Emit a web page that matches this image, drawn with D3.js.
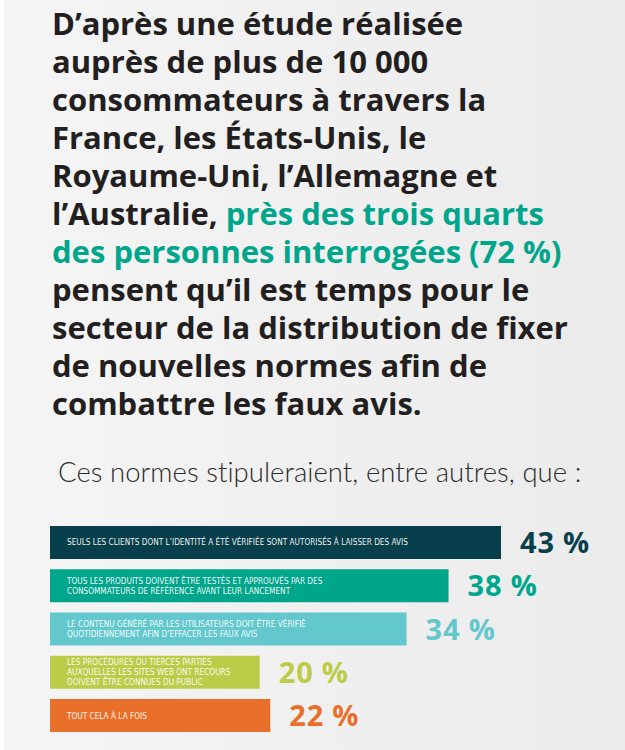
<!DOCTYPE html>
<html>
<head>
<meta charset="utf-8">
<style>
  html, body { margin: 0; padding: 0; }
  body { width: 625px; height: 750px; overflow: hidden; }
  text { font-variant-ligatures: none; }
</style>
</head>
<body>
<div id="chart"></div>
<script src="https://d3js.org/d3.v7.min.js"></script>
<script>
// title lines, each as [text, highlighted?] segments
const titleLines = [
  [["D’après une étude réalisée", false]],
  [["auprès de plus de 10 000", false]],
  [["consommateurs à travers la", false]],
  [["France, les États-Unis, le", false]],
  [["Royaume-Uni, l’Allemagne et", false]],
  [["l’Australie, ", false], ["près des trois quarts", true]],
  [["des personnes interrogées (72 %)", true]],
  [["pensent qu’il est temps pour le", false]],
  [["secteur de la distribution de fixer", false]],
  [["de nouvelles normes afin de", false]],
  [["combattre les faux avis.", false]]
];
const subtitle = "Ces normes stipuleraient, entre autres, que :";

const categories = [
  ["SEULS LES CLIENTS DONT L’IDENTITÉ A ÉTÉ VÉRIFIÉE SONT AUTORISÉS À LAISSER DES AVIS"],
  ["TOUS LES PRODUITS DOIVENT ÊTRE TESTÉS ET APPROUVÉS PAR DES", "CONSOMMATEURS DE RÉFÉRENCE AVANT LEUR LANCEMENT"],
  ["LE CONTENU GÉNÉRÉ PAR LES UTILISATEURS DOIT ÊTRE VÉRIFIÉ", "QUOTIDIENNEMENT AFIN D’EFFACER LES FAUX AVIS"],
  ["LES PROCÉDURES OU TIERCES PARTIES", "AUXQUELLES LES SITES WEB ONT RECOURS", "DOIVENT ÊTRE CONNUES DU PUBLIC"],
  ["TOUT CELA À LA FOIS"]
];
// bar lengths as drawn in the picture (the last bar is drawn a bit short of 22)
const values = [43, 38, 34, 20, 21];
const valueLabels = ["43 %", "38 %", "34 %", "20 %", "22 %"];
const colors = ["#073f4c", "#00a68c", "#62c8cd", "#bccb48", "#e8702a"];

const width = 625, height = 750;

const svg = d3.select("#chart").append("svg")
  .attr("width", width)
  .attr("height", height);

// background
const grad = svg.append("defs").append("linearGradient")
  .attr("id", "bg").attr("x1", 0).attr("x2", 1).attr("y1", 0).attr("y2", 0);
grad.append("stop").attr("offset", 0).attr("stop-color", "#f5f5f5");
grad.append("stop").attr("offset", 1).attr("stop-color", "#ebebeb");
svg.append("rect").attr("width", width).attr("height", height).attr("fill", "url(#bg)");
svg.append("rect").attr("width", 4).attr("height", height).attr("fill", "#ffffff");

// headline
const title = svg.append("text")
  .attr("font-family", "'Open Sans', Lato, sans-serif")
  .attr("font-weight", 700)
  .attr("font-size", 31)
  .attr("letter-spacing", 0)
  .attr("fill", "#231f20");

titleLines.forEach((line, i) => {
  line.forEach((seg, j) => {
    const t = title.append("tspan").text(seg[0])
      .attr("fill", seg[1] ? "#00a68c" : "#231f20");
    if (j === 0) t.attr("x", 52).attr("y", 35 + i * 38);
  });
});

svg.append("text")
  .attr("x", 58)
  .attr("y", 482)
  .attr("font-family", "Lato, 'Open Sans', sans-serif")
  .attr("font-weight", 300)
  .attr("font-size", 27.5)
  .attr("letter-spacing", 0.05)
  .attr("fill", "#2b2b2b")
  .text(subtitle);

// bars
const x = d3.scaleLinear().domain([0, 43]).range([50, 501]);
const y = d3.scaleBand().domain(d3.range(values.length)).range([526, 732]).paddingInner(0.237).paddingOuter(0);

const rows = svg.append("g").selectAll("g")
  .data(values)
  .join("g");

rows.append("rect")
  .attr("x", x(0))
  .attr("y", (d, i) => y(i))
  .attr("width", d => x(d) - x(0))
  .attr("height", y.bandwidth())
  .attr("fill", (d, i) => colors[i]);

rows.each(function(d, i) {
  const lines = categories[i];
  const cy = y(i) + y.bandwidth() / 2;
  const t = d3.select(this).append("text")
    .attr("font-family", "'Liberation Sans Narrow', 'DejaVu Sans Condensed', sans-serif")
    .attr("font-size", 8.2)
    .attr("fill", "#ffffff")
    .attr("fill-opacity", 0.95);
  lines.forEach((l, k) => {
    t.append("tspan")
      .attr("x", 67)
      .attr("y", cy + 3 + (k - (lines.length - 1) / 2) * 10)
      .text(l);
  });
});

rows.append("text")
  .attr("x", d => x(d) + 19)
  .attr("y", (d, i) => y(i) + y.bandwidth() / 2 + 10.5)
  .attr("font-family", "'Open Sans', Lato, sans-serif")
  .attr("font-weight", 700)
  .attr("font-size", 29)
  .attr("letter-spacing", 0.8)
  .attr("fill", (d, i) => colors[i])
  .text((d, i) => valueLabels[i]);
</script>
</body>
</html>
